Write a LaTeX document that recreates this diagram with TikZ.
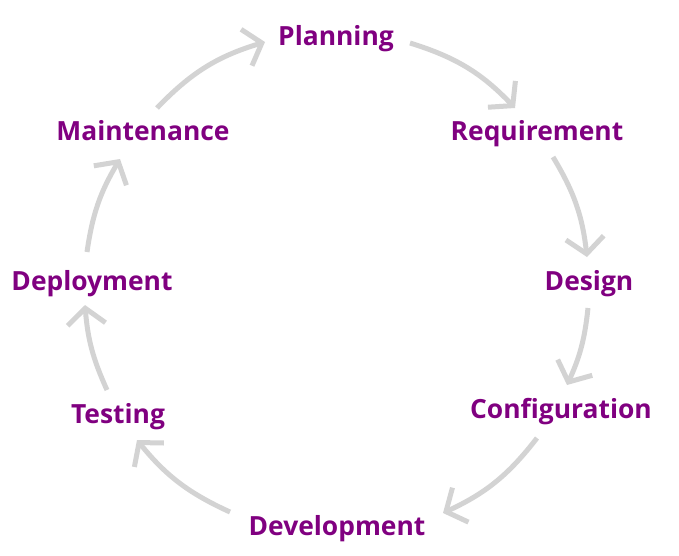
\documentclass[tikz,border=0pt]{standalone}
\usepackage{fontspec}
\setmainfont{Open Sans}
\usetikzlibrary{arrows.meta}
\definecolor{phase}{HTML}{800080}
\definecolor{arrowgray}{HTML}{D3D3D3}
\tikzset{
  phasenode/.style={text=phase, font=\fontsize{26.4}{30}\selectfont\bfseries, anchor=base, inner sep=0pt},
  cyclearrow/.style={draw=arrowgray, line width=5pt, -{Straight Barb[length=16pt, width=38pt, line width=5pt]}}
}
\begin{document}
\begin{tikzpicture}[x=1pt, y=-1pt]
\useasboundingbox (0,0) rectangle (679,555);
\node[phasenode] (plan) at (336,45) {Planning};
\node[phasenode] (req) at (537,140) {Requirement};
\node[phasenode] (des) at (589,290) {Design};
\node[phasenode] (conf) at (561,418) {Configuration};
\node[phasenode] (dev) at (337,535) {Development};
\node[phasenode] (test) at (118,423) {Testing};
\node[phasenode] (depl) at (92,290) {Deployment};
\node[phasenode] (maint) at (143,140) {Maintenance};
\coordinate (s1) at (157,108); \coordinate (e1) at (265,42);
\coordinate (s2) at (410,43);  \coordinate (e2) at (515,108);
\coordinate (s3) at (553,157); \coordinate (e3) at (587,257);
\coordinate (s4) at (588,308); \coordinate (e4) at (567,385);
\coordinate (s5) at (537,438); \coordinate (e5) at (443,513);
\coordinate (s6) at (230,512); \coordinate (e6) at (137,440);
\coordinate (s7) at (107,390); \coordinate (e7) at (85,305);
\coordinate (s8) at (87,252);  \coordinate (e8) at (120,159);
\draw[cyclearrow] (s1) to[bend left=14.7] (e1);
\draw[cyclearrow] (s2) to[bend left=14.5] (e2);
\draw[cyclearrow] (s3) to[bend left=12.3] (e3);
\draw[cyclearrow] (s4) to[bend left=9.2] (e4);
\draw[cyclearrow] (s5) to[bend left=13.7] (e5);
\draw[cyclearrow] (s6) to[bend left=13.2] (e6);
\draw[cyclearrow] (s7) to[bend left=9.9] (e7);
\draw[cyclearrow] (s8) to[bend left=11.3] (e8);
\end{tikzpicture}
\end{document}
